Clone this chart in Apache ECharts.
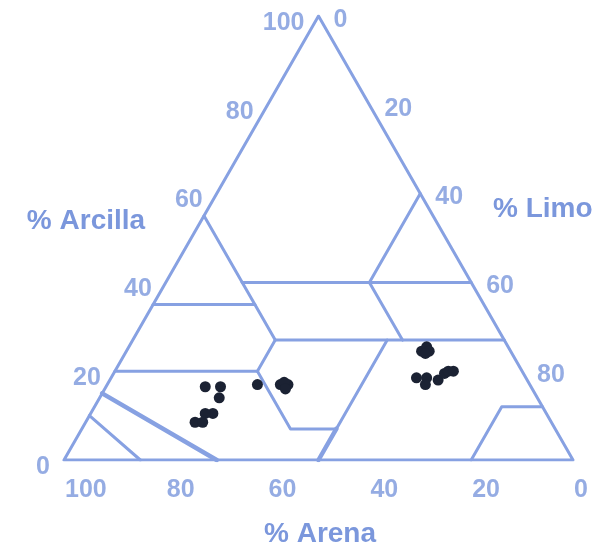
<!DOCTYPE html>
<html>
<head>
<meta charset="utf-8">
<script src="https://cdn.jsdelivr.net/npm/echarts@6/dist/echarts.min.js"></script>
<style>html,body{margin:0;padding:0;background:#fff}#c{width:598px;height:547px}</style>
</head>
<body>
<div id="c"></div>
<script>
// Sample points (percent sand, percent clay; silt = 100 - sand - clay)
const sampleSand = [64, 61, 62.5, 65.5, 67, 70, 68.5, 53.5, 49, 47.5, 48, 48.5, 17.5, 16, 16, 17, 21.5, 19.5, 20.5, 17.5, 15.5, 14.5, 13.5];
const sampleClay = [16.5, 16.5, 14, 10.5, 10.5, 8.5, 8.5, 17, 17, 17, 17.5, 16, 24.5, 25.5, 24.5, 24, 18.5, 18.5, 17, 18, 19.5, 20, 20];

// Tick labels on each side
const clayTicks = [0, 20, 40, 60, 80, 100];
const siltTicks = [0, 20, 40, 60, 80];
const sandTicks = [100, 80, 60, 40, 20, 0];

// Axis titles
const titleClay = '% Arcilla';
const titleSilt = '% Limo';
const titleSand = '% Arena';

// Texture-class boundaries as [sand, clay] vertex lists
const outline = [[100, 0], [0, 0], [0, 100], [100, 0]];
const boundaries = [
  [[45, 55], [45, 27]],
  [[65, 35], [45, 35]],
  [[45, 40], [0, 40]],
  [[45, 27], [0, 27]],
  [[45, 27], [52, 20]],
  [[80, 20], [52, 20]],
  [[52, 20], [52, 7], [43, 7]],
  [[43, 7], [23, 27]],
  [[20, 27], [20, 40], [0, 60]],
  [[90, 10], [85, 0]],
  [[20, 0], [8, 12], [0, 12]]
];
const thickBoundaries = [
  [[85, 15], [70, 0]],
  [[50, 0], [43, 7]]
];

const H = Math.sqrt(3) / 2;
function toXY(sand, clay) { return [100 - sand - clay / 2, clay * H]; }

const LINE = '#87a1e2';
const TEXT = '#7b97dc';
const DOT = '#1b2233';

const series = [];
function addLine(pts, w) {
  series.push({
    type: 'line', data: pts.map(p => toXY(p[0], p[1])), symbol: 'none', silent: true,
    lineStyle: { color: LINE, width: w, cap: 'round', join: 'round' }, z: 2, animation: false
  });
}
addLine(outline, 3);
boundaries.forEach(b => addLine(b, 3));
thickBoundaries.forEach(b => addLine(b, 4.5));

const numFont = { fontFamily: 'Liberation Sans, Arial, sans-serif', fontWeight: 'bold', fontSize: 25, color: TEXT };

series.push({
  type: 'scatter', symbolSize: 0, silent: true, animation: false,
  data: clayTicks.map(c => ({ value: toXY(100 - c, c), name: String(c) })),
  label: Object.assign({ show: true, position: 'left', distance: 14, offset: [0, 7], formatter: p => p.name }, numFont)
});
series.push({
  type: 'scatter', symbolSize: 0, silent: true, animation: false,
  data: siltTicks.map(s => ({ value: toXY(0, 100 - s), name: String(s) })),
  label: Object.assign({ show: true, position: 'right', distance: 15, offset: [0, 4], formatter: p => p.name }, numFont)
});
series.push({
  type: 'scatter', symbolSize: 0, silent: true, animation: false,
  data: sandTicks.map(s => ({ value: toXY(s, 0), name: String(s) })),
  label: Object.assign({ show: true, position: 'right', distance: 1, offset: [0, 30], formatter: p => p.name }, numFont)
});
series.push({
  type: 'scatter', symbolSize: 11, animation: false, z: 5,
  itemStyle: { color: DOT, opacity: 1 },
  data: sampleSand.map((s, i) => toXY(s, sampleClay[i]))
});

const titleStyle = { fontFamily: 'Liberation Sans, Arial, sans-serif', fontWeight: 'bold', fontSize: 28, fill: TEXT };

const chart = echarts.init(document.getElementById('c'), null, { renderer: 'canvas' });
chart.setOption({
  animation: false,
  backgroundColor: '#ffffff',
  grid: { left: 64, top: 16, width: 509, height: 444 },
  xAxis: { type: 'value', min: 0, max: 100, show: false },
  yAxis: { type: 'value', min: 0, max: 100 * H, show: false },
  graphic: [
    { type: 'text', x: 86, y: 221, style: Object.assign({ text: titleClay, align: 'center', verticalAlign: 'middle' }, titleStyle) },
    { type: 'text', x: 493, y: 209, style: Object.assign({ text: titleSilt, align: 'left', verticalAlign: 'middle' }, titleStyle) },
    { type: 'text', x: 320, y: 534, style: Object.assign({ text: titleSand, align: 'center', verticalAlign: 'middle' }, titleStyle) }
  ],
  series: series
});
</script>
</body>
</html>
